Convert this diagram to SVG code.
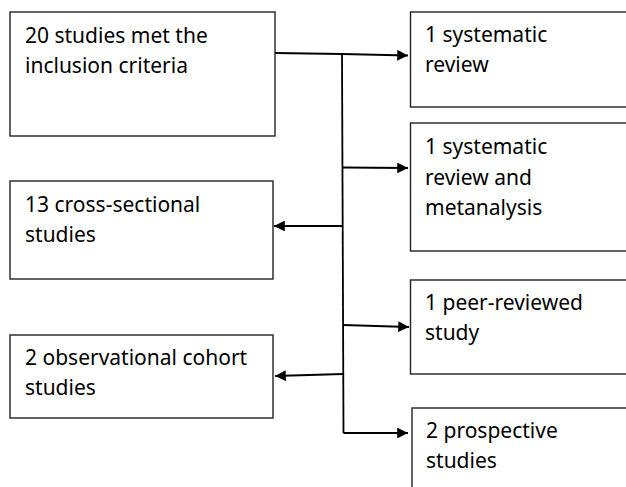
<svg xmlns="http://www.w3.org/2000/svg" width="626" height="487" viewBox="0 0 626 487">
<style>
.box{fill:#fff;stroke:#222;stroke-width:1.4}
.t{font-family:"Noto Sans","Open Sans",sans-serif;font-size:21px;fill:#000}
.c{fill:none;stroke:#000;stroke-width:1.8}
</style>
<defs>
<marker id="ah" viewBox="0 0 10 10" refX="10" refY="5" markerWidth="6" markerHeight="6" orient="auto" markerUnits="strokeWidth">
<path d="M0,0 L10,5 L0,10 z" fill="#000"/>
</marker>
</defs>
<rect width="626" height="487" fill="#fff"/>
<g id="n1"><rect class="box" x="10" y="12" width="265" height="124"/><text class="t" x="25" y="43">20 studies met the</text><text class="t" x="25" y="73">inclusion criteria</text></g>
<g id="n2"><rect class="box" x="410.5" y="12" width="220" height="95"/><text class="t" x="425" y="42">1 systematic</text><text class="t" x="425" y="72">review</text></g>
<g id="n3"><rect class="box" x="410.5" y="123" width="220" height="128"/><text class="t" x="425" y="154">1 systematic</text><text class="t" x="425" y="185">review and</text><text class="t" x="425" y="215">metanalysis</text></g>
<g id="n4"><rect class="box" x="10" y="181" width="263" height="98"/><text class="t" x="25" y="212">13 cross-sectional</text><text class="t" x="25" y="242">studies</text></g>
<g id="n5"><rect class="box" x="410.5" y="280" width="220" height="94"/><text class="t" x="425" y="310">1 peer-reviewed</text><text class="t" x="425" y="340">study</text></g>
<g id="n6"><rect class="box" x="10" y="335" width="263" height="83"/><text class="t" x="25" y="365">2 observational cohort</text><text class="t" x="25" y="395">studies</text></g>
<g id="n7"><rect class="box" x="412" y="408" width="220" height="90"/><text class="t" x="426" y="438">2 prospective</text><text class="t" x="426" y="468">studies</text></g>
<g id="connectors">
<path class="c" d="M275,53 L342,54 L408,55.5" marker-end="url(#ah)"/>
<path class="c" d="M342,54 L343.5,433"/>
<path class="c" d="M343,167.5 L408,168" marker-end="url(#ah)"/>
<path class="c" d="M343,226 L274,226" marker-end="url(#ah)"/>
<path class="c" d="M343,325 L409,327" marker-end="url(#ah)"/>
<path class="c" d="M343,374 L275,376" marker-end="url(#ah)"/>
<path class="c" d="M343.5,433 L408,433" marker-end="url(#ah)"/>
</g>
</svg>
